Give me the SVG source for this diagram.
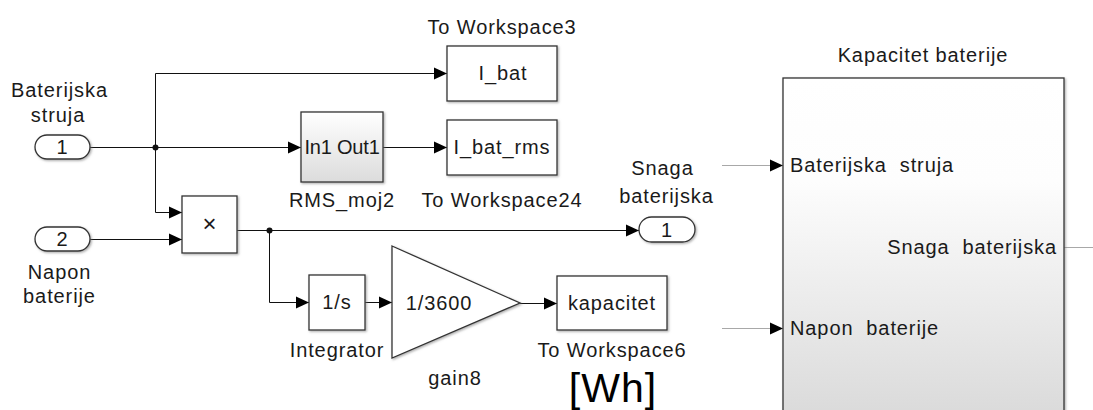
<svg xmlns="http://www.w3.org/2000/svg" width="1093" height="410" viewBox="0 0 1093 410">
<style>
text{font-family:"Liberation Sans",Arial,sans-serif;font-size:20px;letter-spacing:0.9px;fill:#1a1a1a}
.c{text-anchor:middle}
.blk{fill:#fff;stroke:#333;stroke-width:1.3;filter:url(#sh)}
.w{stroke:#111;stroke-width:1;fill:none}
.g{stroke:#a8a8a8;stroke-width:1;fill:none}
.dot{fill:#111}
.pre{white-space:pre}
</style>
<defs>
<marker id="ar" markerUnits="userSpaceOnUse" markerWidth="14" markerHeight="14" refX="13" refY="7" orient="auto">
<path d="M0,1 L13,7 L0,13 z" fill="#000"/>
</marker>
<linearGradient id="gr" x1="0" y1="0" x2="0" y2="1">
<stop offset="0" stop-color="#ffffff"/>
<stop offset="1" stop-color="#dcdcdc"/>
</linearGradient>
<linearGradient id="gr2" x1="0" y1="0" x2="0" y2="1">
<stop offset="0" stop-color="#ffffff"/>
<stop offset="0.3" stop-color="#fdfdfd"/>
<stop offset="1" stop-color="#d9d9d9"/>
</linearGradient>
<filter id="sh" x="-10%" y="-10%" width="130%" height="130%">
<feDropShadow dx="1.2" dy="1.2" stdDeviation="0.8" flood-color="#777" flood-opacity="0.6"/>
</filter>
</defs>

<g id="connectors">
<polyline class="w" points="90,147.5 301,147.5" marker-end="url(#ar)"/>
<polyline class="w" points="155.5,147.5 155.5,73.5 447,73.5" marker-end="url(#ar)"/>
<polyline class="w" points="155.5,147.5 155.5,212.5 182,212.5" marker-end="url(#ar)"/>
<polyline class="w" points="90,239.5 182,239.5" marker-end="url(#ar)"/>
<polyline class="w" points="237,230.5 639,230.5" marker-end="url(#ar)"/>
<polyline class="w" points="269.5,230.5 269.5,302.5 309,302.5" marker-end="url(#ar)"/>
<polyline class="w" points="365,302.5 392,302.5" marker-end="url(#ar)"/>
<polyline class="w" points="520,303.5 557,303.5" marker-end="url(#ar)"/>
<polyline class="w" points="383,147.5 447,147.5" marker-end="url(#ar)"/>
<polyline class="g" points="722,165.5 783,165.5" marker-end="url(#ar)"/>
<polyline class="g" points="722,328.5 783,328.5" marker-end="url(#ar)"/>
<polyline class="g" points="1064,247.5 1093,247.5"/>
<circle class="dot" cx="155.5" cy="147.5" r="3"/>
<circle class="dot" cx="269.5" cy="230.5" r="3"/>
</g>

<g id="in1">
<rect class="blk" x="35" y="135" width="55" height="24" rx="12"/>
<text class="c" x="62.5" y="154">1</text>
<text class="c" x="59.5" y="97">Baterijska</text>
<text class="c" x="58" y="122">struja</text>
</g>

<g id="in2">
<rect class="blk" x="35" y="227" width="55" height="24" rx="12"/>
<text class="c" x="62.5" y="246">2</text>
<text class="c" x="59.5" y="279">Napon</text>
<text class="c" x="59.5" y="303">baterije</text>
</g>

<g id="product">
<rect class="blk" x="182" y="196" width="55" height="57"/>
<text class="c" x="209.5" y="232" style="font-size:24px;letter-spacing:0">×</text>
</g>

<g id="rms">
<rect class="blk" x="301" y="112" width="82" height="70" style="fill:url(#gr)"/>
<text class="c" x="342" y="154" style="letter-spacing:-0.2px">In1 Out1</text>
<text class="c" x="342" y="207">RMS_moj2</text>
</g>

<g id="ws3">
<rect class="blk" x="447" y="46" width="110" height="55"/>
<text class="c" x="503" y="80">I_bat</text>
<text class="c" x="502" y="34">To Workspace3</text>
</g>

<g id="ws24">
<rect class="blk" x="447" y="120" width="110" height="55"/>
<text class="c" x="502" y="154">I_bat_rms</text>
<text class="c" x="502" y="207">To Workspace24</text>
</g>

<g id="out1">
<rect class="blk" x="639" y="217" width="56" height="25" rx="12.5"/>
<text class="c" x="667" y="237">1</text>
<text class="c" x="662.5" y="175">Snaga</text>
<text class="c" x="666.5" y="203">baterijska</text>
</g>

<g id="integrator">
<rect class="blk" x="309" y="275" width="56" height="55"/>
<text class="c" x="337" y="309">1/s</text>
<text class="c" x="337" y="357">Integrator</text>
</g>

<g id="gain8">
<polygon class="blk" points="392,246 520,303 392,358"/>
<text class="c" x="439" y="310">1/3600</text>
<text class="c" x="455" y="385">gain8</text>
</g>

<g id="ws6">
<rect class="blk" x="557" y="276" width="110" height="54"/>
<text class="c" x="612" y="310">kapacitet</text>
<text class="c" x="612" y="357">To Workspace6</text>
<text class="c" x="613" y="402" style="font-size:41px;letter-spacing:1px;fill:#000">[Wh]</text>
</g>

<g id="kapacitet_baterije">
<rect class="blk" x="783" y="78" width="281" height="345" style="fill:url(#gr2)"/>
<text class="c" x="923" y="62">Kapacitet baterije</text>
<text class="pre" x="790" y="172">Baterijska  struja</text>
<text class="pre" x="1057" y="254" text-anchor="end">Snaga  baterijska</text>
<text class="pre" x="790" y="335">Napon  baterije</text>
</g>
</svg>
